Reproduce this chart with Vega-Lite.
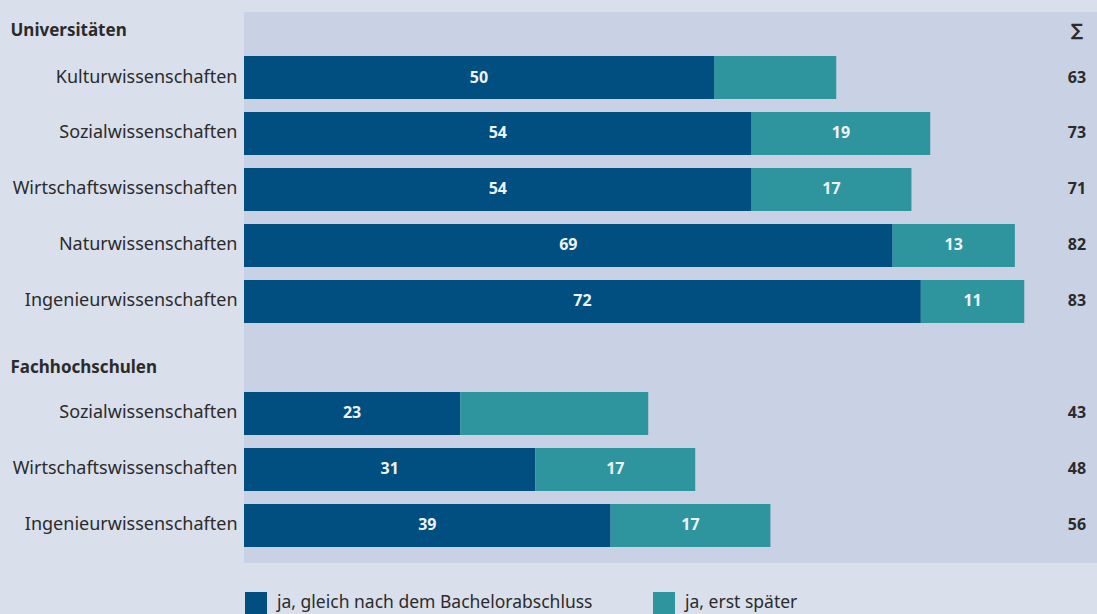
{
  "$schema": "https://vega.github.io/schema/vega-lite/v6.json",
  "width": 853,
  "height": 551,
  "autosize": {"type": "none"},
  "padding": {"left": 244, "top": 12, "right": 0, "bottom": 51},
  "background": "#d9dfeb",
  "config": {
    "view": {"fill": "#c9d2e4", "stroke": null},
    "font": "Noto Sans"
  },
  "datasets": {
    "bars": [
      {"row": "U|Kulturwissenschaften", "series": "ja, gleich nach dem Bachelorabschluss", "k": 1, "value": 50, "label": "50"},
      {"row": "U|Kulturwissenschaften", "series": "ja, erst später", "k": 2, "value": 13, "label": ""},
      {"row": "U|Sozialwissenschaften", "series": "ja, gleich nach dem Bachelorabschluss", "k": 1, "value": 54, "label": "54"},
      {"row": "U|Sozialwissenschaften", "series": "ja, erst später", "k": 2, "value": 19, "label": "19"},
      {"row": "U|Wirtschaftswissenschaften", "series": "ja, gleich nach dem Bachelorabschluss", "k": 1, "value": 54, "label": "54"},
      {"row": "U|Wirtschaftswissenschaften", "series": "ja, erst später", "k": 2, "value": 17, "label": "17"},
      {"row": "U|Naturwissenschaften", "series": "ja, gleich nach dem Bachelorabschluss", "k": 1, "value": 69, "label": "69"},
      {"row": "U|Naturwissenschaften", "series": "ja, erst später", "k": 2, "value": 13, "label": "13"},
      {"row": "U|Ingenieurwissenschaften", "series": "ja, gleich nach dem Bachelorabschluss", "k": 1, "value": 72, "label": "72"},
      {"row": "U|Ingenieurwissenschaften", "series": "ja, erst später", "k": 2, "value": 11, "label": "11"},
      {"row": "F|Sozialwissenschaften", "series": "ja, gleich nach dem Bachelorabschluss", "k": 1, "value": 23, "label": "23"},
      {"row": "F|Sozialwissenschaften", "series": "ja, erst später", "k": 2, "value": 20, "label": ""},
      {"row": "F|Wirtschaftswissenschaften", "series": "ja, gleich nach dem Bachelorabschluss", "k": 1, "value": 31, "label": "31"},
      {"row": "F|Wirtschaftswissenschaften", "series": "ja, erst später", "k": 2, "value": 17, "label": "17"},
      {"row": "F|Ingenieurwissenschaften", "series": "ja, gleich nach dem Bachelorabschluss", "k": 1, "value": 39, "label": "39"},
      {"row": "F|Ingenieurwissenschaften", "series": "ja, erst später", "k": 2, "value": 17, "label": "17"}
    ],
    "sums": [
      {"row": "U|Kulturwissenschaften", "sum": "63"},
      {"row": "U|Sozialwissenschaften", "sum": "73"},
      {"row": "U|Wirtschaftswissenschaften", "sum": "71"},
      {"row": "U|Naturwissenschaften", "sum": "82"},
      {"row": "U|Ingenieurwissenschaften", "sum": "83"},
      {"row": "F|Sozialwissenschaften", "sum": "43"},
      {"row": "F|Wirtschaftswissenschaften", "sum": "48"},
      {"row": "F|Ingenieurwissenschaften", "sum": "56"}
    ],
    "sigma": [
      {"row": "U|Universitäten", "sum": "∑"}
    ]
  },
  "encoding": {
    "y": {
      "field": "row",
      "type": "nominal",
      "scale": {
        "domain": ["U|Universitäten", "U|Kulturwissenschaften", "U|Sozialwissenschaften", "U|Wirtschaftswissenschaften", "U|Naturwissenschaften", "U|Ingenieurwissenschaften", "F|Fachhochschulen", "F|Sozialwissenschaften", "F|Wirtschaftswissenschaften", "F|Ingenieurwissenschaften"],
        "range": [-12, 551],
        "paddingInner": 0.232,
        "paddingOuter": 0.143,
        "align": 0
      },
      "axis": {
        "title": null,
        "domain": false,
        "ticks": false,
        "labelExpr": "split(datum.label, '|')[1]",
        "labelFont": "Noto Sans",
        "labelFontSize": {"condition": {"test": "datum.value === 'U|Universitäten' || datum.value === 'F|Fachhochschulen'", "value": 17}, "value": 18},
        "labelLimit": 300,
        "labelColor": "#2b2b2b",
        "labelFontWeight": {"condition": {"test": "datum.value === 'U|Universitäten' || datum.value === 'F|Fachhochschulen'", "value": "bold"}, "value": "normal"},
        "labelAlign": {"condition": {"test": "datum.value === 'U|Universitäten' || datum.value === 'F|Fachhochschulen'", "value": "left"}, "value": "right"},
        "labelPadding": {"condition": {"test": "datum.value === 'U|Universitäten' || datum.value === 'F|Fachhochschulen'", "value": 234}, "value": 7},
        "labelOffset": {"condition": [{"test": "datum.value === 'U|Universitäten'", "value": 9}, {"test": "datum.value === 'F|Fachhochschulen'", "value": 11}], "value": 0}
      }
    }
  },
  "layer": [
    {
      "data": {"name": "bars"},
      "mark": {"type": "bar"},
      "encoding": {
        "x": {"field": "value", "type": "quantitative", "stack": "zero", "scale": {"domain": [0, 90.74], "nice": false}, "axis": null},
        "color": {
          "field": "series",
          "type": "nominal",
          "scale": {"domain": ["ja, gleich nach dem Bachelorabschluss", "ja, erst später"], "range": ["#004f80", "#2e949e"]},
          "legend": {
            "title": null,
            "orient": "none",
            "legendX": 1,
            "legendY": 580,
            "direction": "horizontal",
            "symbolType": "square",
            "symbolSize": 484,
            "symbolStrokeWidth": 0,
            "symbolOpacity": 1,
            "labelFont": "Noto Sans",
            "labelFontSize": 17.5,
            "labelColor": "#2b2b2b",
            "labelOffset": 10,
            "columnPadding": 60,
            "labelLimit": 500
          }
        },
        "order": {"field": "k", "type": "quantitative"}
      }
    },
    {
      "data": {"name": "bars"},
      "mark": {"type": "text", "fontWeight": "bold", "fontSize": 16, "color": "#eef2f6", "align": "center", "baseline": "middle", "font": "Noto Sans"},
      "encoding": {
        "x": {"field": "value", "type": "quantitative", "stack": "zero", "bandPosition": 0.5},
        "order": {"field": "k", "type": "quantitative"},
        "detail": {"field": "series"},
        "text": {"field": "label"}
      }
    },
    {
      "data": {"name": "sums"},
      "mark": {"type": "text", "fontWeight": "bold", "fontSize": 16, "color": "#2b2b2b", "align": "center", "baseline": "middle", "font": "Noto Sans"},
      "encoding": {
        "x": {"datum": 88.6, "type": "quantitative"},
        "text": {"field": "sum"}
      }
    },
    {
      "data": {"name": "sigma"},
      "mark": {"type": "text", "fontWeight": "bold", "fontSize": 17, "color": "#2b2b2b", "align": "center", "baseline": "middle", "font": "DejaVu Sans", "dy": 9},
      "encoding": {
        "x": {"datum": 88.6, "type": "quantitative"},
        "text": {"field": "sum"}
      }
    }
  ]
}
